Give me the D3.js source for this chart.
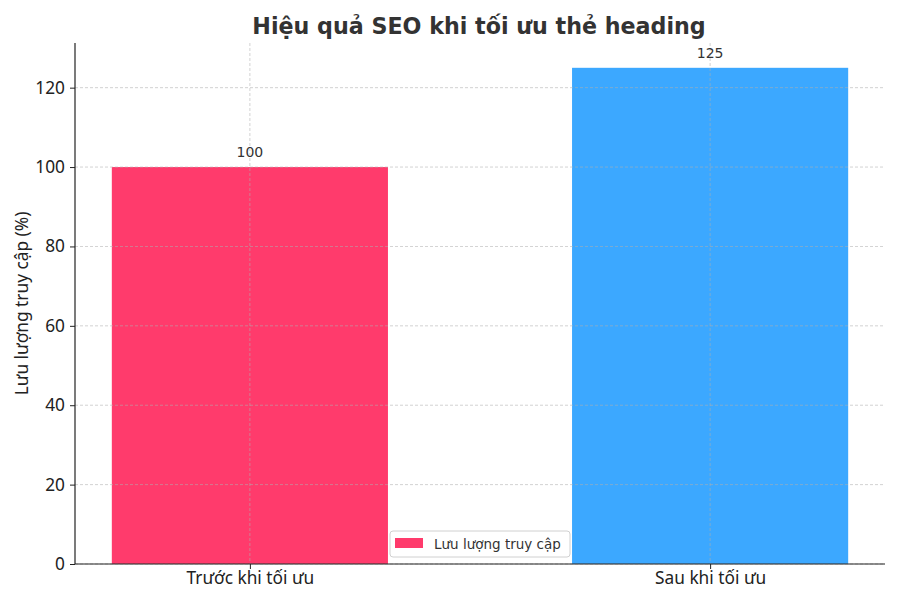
<!DOCTYPE html>
<html><head><meta charset="utf-8">
<script src="https://cdn.jsdelivr.net/npm/d3@7"></script>
<style>body{margin:0;background:#fff}svg{display:block;font-family:"DejaVu Sans",sans-serif}</style>
</head><body>
<svg id="c" width="900" height="600"></svg>
<script>
const categories = ["Trước khi tối ưu", "Sau khi tối ưu"];
const values = [100, 125];
const colors = ["#ff3b6c", "#3ca8ff"];
const yTicks = [0, 20, 40, 60, 80, 100, 120];
const seriesName = "Lưu lượng truy cập";

const svg = d3.select("#c");
const L = 75, R = 885, T = 43, B = 564;
const x = d3.scaleLinear().domain([-0.38, 1.38]).range([L, R]);
const y = d3.scaleLinear().domain([0, 131.25]).range([B, T]);
const bw = x(0.6) - x(0);
const tickFont = "Noto Sans";
const tickSize = 17.3;

// bars
svg.selectAll("rect.bar").data(values).enter().append("rect")
  .attr("x", (d, i) => x(i) - bw / 2).attr("width", bw)
  .attr("y", d => y(d)).attr("height", d => B - y(d))
  .attr("fill", (d, i) => colors[i]);

// grid
const g = svg.append("g");
g.selectAll("line.gy").data(yTicks).enter().append("line")
  .attr("x1", L).attr("x2", R).attr("y1", d => y(d)).attr("y2", d => y(d))
  .attr("stroke", "#b0b0b0").attr("stroke-width", 0.8).attr("stroke-dasharray", "3,2").attr("opacity", 0.7);
g.selectAll("line.gx").data(categories).enter().append("line")
  .attr("x1", (d, i) => x(i)).attr("x2", (d, i) => x(i)).attr("y1", T).attr("y2", B)
  .attr("stroke", "#b0b0b0").attr("stroke-width", 0.8).attr("stroke-dasharray", "3,2").attr("opacity", 0.7);

// value labels
svg.selectAll("text.val").data(values).enter().append("text")
  .attr("x", (d, i) => x(i)).attr("y", d => y(d) - 10)
  .attr("text-anchor", "middle").attr("font-size", 14).attr("fill", "#333")
  .text(d => d);

// axes
const yAxis = d3.axisLeft(y).tickValues(yTicks).tickSize(5).tickPadding(5);
const ya = svg.append("g").attr("transform", `translate(${L},0)`).call(yAxis);
ya.select(".domain").attr("d", `M0,${T}V${B}`).attr("stroke", "#222").attr("stroke-width", 1.2);
ya.selectAll("text").attr("font-size", tickSize).attr("fill", "#222").attr("font-family", tickFont);
ya.selectAll(".tick line").attr("stroke", "#222");

const xAxis = d3.axisBottom(x).tickValues([0, 1]).tickFormat((d) => categories[d]).tickSize(5).tickPadding(3);
const xa = svg.append("g").attr("transform", `translate(0,${B})`).call(xAxis);
xa.select(".domain").attr("d", `M${L},0H${R}`).attr("stroke", "#222").attr("stroke-width", 1.2);
xa.selectAll("text").attr("font-size", tickSize).attr("fill", "#222").attr("font-family", tickFont);
xa.selectAll(".tick line").attr("stroke", "#222");

// axis label
svg.append("text").attr("transform", `translate(28,${(T + B) / 2}) rotate(-90)`)
  .attr("text-anchor", "middle").attr("font-size", tickSize).attr("fill", "#222").attr("font-family", tickFont)
  .text("Lưu lượng truy cập (%)");

// title
svg.append("text").attr("x", (L + R) / 2 - 1).attr("y", 34).attr("text-anchor", "middle")
  .attr("font-size", 22.2).attr("font-weight", "bold").attr("fill", "#333")
  .text("Hiệu quả SEO khi tối ưu thẻ heading");

// legend
const lg = svg.append("g");
lg.append("rect").attr("x", 390).attr("y", 531).attr("width", 180).attr("height", 26).attr("rx", 3)
  .attr("fill", "#fff").attr("fill-opacity", 0.8).attr("stroke", "#d0d0d0");
lg.append("rect").attr("x", 395).attr("y", 538).attr("width", 28).attr("height", 10).attr("fill", colors[0]);
lg.append("text").attr("x", 434).attr("y", 548.5).attr("font-size", 13.5).attr("fill", "#333").text(seriesName);
</script>
</body></html>
